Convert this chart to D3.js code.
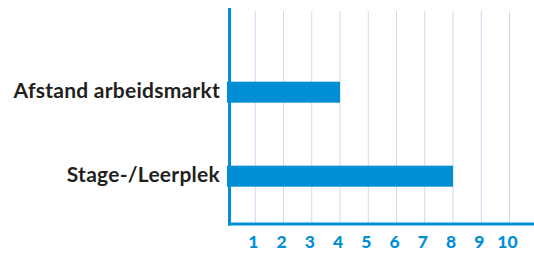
<!DOCTYPE html>
<html>
<head>
<meta charset="utf-8">
<script src="https://cdn.jsdelivr.net/npm/d3@7"></script>
<style>
  body { margin: 0; background: #fff; }
  svg { display: block; }
</style>
</head>
<body>
<svg id="chart"></svg>
<script>
// Data
const categories = ["Afstand arbeidsmarkt", "Stage-/Leerplek"];
const values = [4, 8];
const tickValues = [1, 2, 3, 4, 5, 6, 7, 8, 9, 10];

const width = 534;
const height = 253;

const blue = "#008fd5";
const gridColor = "#c6dcf1";

const svg = d3.select("#chart")
    .attr("width", width)
    .attr("height", height);

const x = d3.scaleLinear()
    .domain([0, 10])
    .range([227, 509.5]);

const y = d3.scaleBand()
    .domain(categories)
    .range([39.7, 228.7])
    .paddingInner(0.75)
    .paddingOuter(0.5);

const plotTop = 11;
const plotBottom = 224;

// Gridlines
svg.append("g")
    .selectAll("line")
    .data(tickValues)
    .join("line")
    .attr("x1", d => x(d))
    .attr("x2", d => x(d))
    .attr("y1", plotTop)
    .attr("y2", plotBottom)
    .attr("stroke", gridColor)
    .attr("stroke-width", 1);

// Bars
svg.selectAll("rect.bar")
    .data(categories)
    .join("rect")
    .attr("class", "bar")
    .attr("x", x(0))
    .attr("y", d => y(d))
    .attr("width", (d, i) => x(values[i]) - x(0))
    .attr("height", y.bandwidth())
    .attr("fill", blue);

// Axes lines
svg.append("line")
    .attr("x1", 229.5).attr("x2", 229.5)
    .attr("y1", 8).attr("y2", plotBottom + 1.5)
    .attr("stroke", blue)
    .attr("stroke-width", 3);

svg.append("line")
    .attr("x1", 228).attr("x2", width)
    .attr("y1", plotBottom).attr("y2", plotBottom)
    .attr("stroke", blue)
    .attr("stroke-width", 3);

// Tick labels
svg.append("g")
    .selectAll("text")
    .data(tickValues)
    .join("text")
    .attr("x", d => x(d) - 2)
    .attr("y", 248)
    .attr("text-anchor", "middle")
    .attr("fill", blue)
    .style("font-family", "Lato, sans-serif")
    .style("font-weight", "900")
    .style("font-size", "17.5px")
    .text(d => d);

// Category labels
svg.append("g")
    .selectAll("text")
    .data(categories)
    .join("text")
    .attr("x", 220)
    .attr("y", d => y(d) + y.bandwidth() / 2 + 6)
    .attr("text-anchor", "end")
    .attr("fill", "#231f20")
    .style("font-family", "Lato, sans-serif")
    .style("font-weight", "bold")
    .style("font-size", "21px")
    .style("letter-spacing", "0.25px")
    .text(d => d);
</script>
</body>
</html>
